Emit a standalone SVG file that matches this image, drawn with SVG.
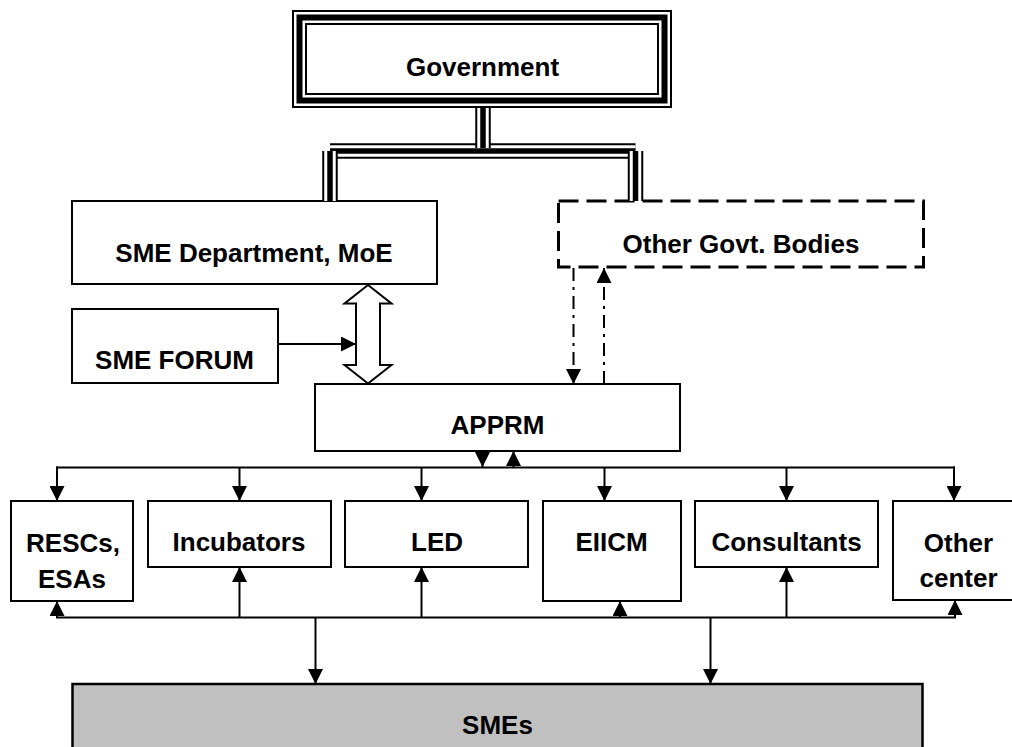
<svg xmlns="http://www.w3.org/2000/svg" width="1012" height="747" viewBox="0 0 1012 747">
  <defs>
    <style>
      text { font-family: "Liberation Sans", Arial, Helvetica, sans-serif; font-weight: bold; font-size: 26px; fill: #000; text-anchor: middle; }
      .box { fill: #fff; stroke: #000; stroke-width: 2; }
      .dashed { fill: #fff; stroke: #000; stroke-width: 3; stroke-dasharray: 20 8; }
      .smes { fill: #c0c0c0; stroke: #000; stroke-width: 2.5; }
      .frame-a { fill: none; stroke: #000; stroke-width: 15; }
      .frame-b { fill: none; stroke: #fff; stroke-width: 11; }
      .frame-c { fill: none; stroke: #000; stroke-width: 6; }
      .tri-a { fill: none; stroke: #000; stroke-width: 15.5; stroke-linecap: butt; }
      .tri-b { fill: none; stroke: #fff; stroke-width: 11.5; stroke-linecap: butt; }
      .tri-c { fill: none; stroke: #000; stroke-width: 5.5; stroke-linecap: butt; }
      .line { fill: none; stroke: #000; stroke-width: 2; }
      .arrow { fill: none; stroke: #000; stroke-width: 2; marker-end: url(#head); }
      .dashdot { fill: none; stroke: #000; stroke-width: 2; stroke-dasharray: 13 6 3 6; marker-end: url(#head); }
      .block { fill: #fff; stroke: #000; stroke-width: 2; stroke-linejoin: miter; }
    </style>
    <marker id="head" viewBox="0 0 15 15" refX="15" refY="7.5" markerWidth="15" markerHeight="15" markerUnits="userSpaceOnUse" orient="auto">
      <path d="M0,0 L15,7.5 L0,15 z" fill="#000"/>
    </marker>
  </defs>

  <!-- Government: triple-line frame -->
  <g id="government">
    <rect class="box" x="292" y="10" width="380" height="98" style="stroke:none"/>
    <rect class="frame-a" x="299.5" y="17.5" width="365" height="83"/>
    <rect class="frame-b" x="299.5" y="17.5" width="365" height="83"/>
    <rect class="frame-c" x="299.5" y="17.5" width="365" height="83"/>
    <text x="482.5" y="76">Government</text>
  </g>

  <g id="sme-department">
    <rect class="box" x="72" y="201" width="365" height="83"/>
    <text x="254" y="262">SME Department, MoE</text>
  </g>

  <g id="other-govt-bodies">
    <rect class="dashed" x="558.5" y="201" width="365" height="66"/>
    <text x="741" y="253">Other Govt. Bodies</text>
  </g>

  <g id="sme-forum">
    <rect class="box" x="72" y="309" width="206" height="74"/>
    <text x="174.5" y="369">SME FORUM</text>
  </g>

  <g id="apprm">
    <rect class="box" x="315" y="384" width="365" height="67"/>
    <text x="497.5" y="434">APPRM</text>
  </g>

  <g id="rescs-esas">
    <rect class="box" x="11" y="501" width="122" height="100"/>
    <text x="73" y="551.5">RESCs,</text>
    <text x="72" y="588">ESAs</text>
  </g>

  <g id="incubators">
    <rect class="box" x="148" y="501" width="183" height="66"/>
    <text x="239" y="551">Incubators</text>
  </g>

  <g id="led">
    <rect class="box" x="345" y="501" width="183" height="66"/>
    <text x="437" y="551">LED</text>
  </g>

  <g id="eiicm">
    <rect class="box" x="543" y="501" width="138" height="100"/>
    <text x="611.5" y="551">EIICM</text>
  </g>

  <g id="consultants">
    <rect class="box" x="695" y="501" width="183" height="66"/>
    <text x="786.5" y="551">Consultants</text>
  </g>

  <g id="other-center">
    <rect class="box" x="893" y="501" width="132" height="99"/>
    <text x="958.5" y="551.5">Other</text>
    <text x="958.5" y="587">center</text>
  </g>

  <g id="smes">
    <rect class="smes" x="72.5" y="684" width="850" height="80"/>
    <text x="497.5" y="734">SMEs</text>
  </g>

  <g id="connectors">
    <!-- triple-line links from Government -->
    <g id="gov-links">
      <path class="tri-a" d="M330,151 H635.5"/>
      <path class="tri-b" d="M330,151 H635.5"/>
      <path class="tri-c" d="M330,151 H635.5"/>
      <path class="tri-a" d="M330,151 V201"/>
      <path class="tri-b" d="M330,151 V201"/>
      <path class="tri-c" d="M330,151 V201"/>
      <path class="tri-a" d="M635.5,151 V201"/>
      <path class="tri-b" d="M635.5,151 V201"/>
      <path class="tri-c" d="M635.5,151 V201"/>
      <path class="tri-a" d="M483,108 V148"/>
      <path class="tri-b" d="M483,108 V148"/>
      <path class="tri-c" d="M483,108 V148"/>
    </g>

    <!-- two-way block arrow between SME Department and APPRM -->
    <polygon class="block" points="368,285 391.5,303.5 380,303.5 380,365 391.5,365 368,383.5 344.5,365 356,365 356,303.5 344.5,303.5"/>

    <!-- SME FORUM into the block arrow -->
    <path class="arrow" d="M278,344 H356"/>

    <!-- dash-dot links with Other Govt. Bodies -->
    <path class="dashdot" d="M573.5,268 V384"/>
    <path class="dashdot" d="M604,384 V268"/>

    <!-- APPRM to upper bus -->
    <path class="arrow" d="M482.5,451 V467"/>
    <path class="arrow" d="M513.5,467 V451"/>

    <!-- upper bus and drops -->
    <path class="line" d="M56,467.5 H955"/>
    <path class="arrow" d="M57,466.5 V501"/>
    <path class="arrow" d="M239.5,467.5 V501"/>
    <path class="arrow" d="M421.5,467.5 V501"/>
    <path class="arrow" d="M604.5,467.5 V501"/>
    <path class="arrow" d="M786.5,467.5 V501"/>
    <path class="arrow" d="M954,466.5 V501"/>

    <!-- lower bus and risers -->
    <path class="line" d="M56,617.5 H956"/>
    <path class="arrow" d="M57,617.5 V601"/>
    <path class="arrow" d="M239.5,617.5 V567"/>
    <path class="arrow" d="M421.5,617.5 V567"/>
    <path class="arrow" d="M620,617.5 V601"/>
    <path class="arrow" d="M786.5,617.5 V567"/>
    <path class="arrow" d="M955,617.5 V600"/>

    <!-- lower bus down to SMEs -->
    <path class="arrow" d="M315.5,617.5 V684"/>
    <path class="arrow" d="M710.5,617.5 V684"/>
  </g>
</svg>
